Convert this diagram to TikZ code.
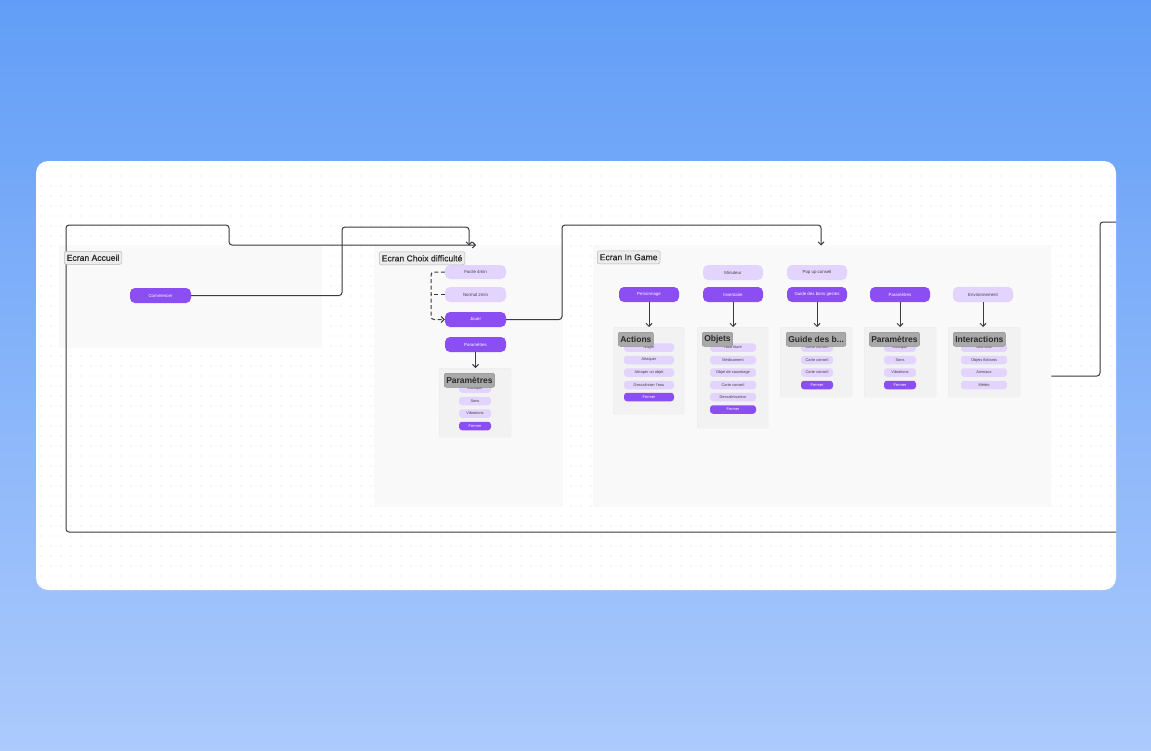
\documentclass[tikz,border=0pt]{standalone}
\usepackage{fontspec}
\setmainfont{Liberation Sans}
\usetikzlibrary{arrows.meta,calc}
\definecolor{pur}{HTML}{8B4EF3}
\definecolor{lpur}{HTML}{E2D4FC}
\definecolor{bgtop}{RGB}{98,158,247}
\definecolor{bgbot}{RGB}{172,202,252}
\definecolor{framefill}{HTML}{F9F9F9}
\definecolor{subfill}{HTML}{F2F2F2}
\definecolor{subborder}{HTML}{DADADA}
\definecolor{tfill}{HTML}{ECECEC}
\definecolor{tborder}{HTML}{B8B8B8}
\definecolor{sgray}{HTML}{A9A9A9}
\definecolor{sgrayb}{HTML}{8F8F8F}
\definecolor{txt}{HTML}{2A2A2A}
\definecolor{txtb}{HTML}{444444}
\definecolor{lc}{HTML}{3A3A40}
\definecolor{dotc}{HTML}{DCDCDC}
\begin{document}
\begin{tikzpicture}[x=1pt,y=-1pt,
  frame/.style={fill=framefill, draw=none, rectangle, anchor=north west, inner sep=0},
  sub/.style={fill=subfill, draw=subborder, densely dotted, line width=0.4pt, anchor=north west, inner sep=0, rounded corners=1.5},
  ftitle/.style={fill=tfill, draw=tborder, rounded corners=2, line width=0.5pt, font=\fontsize{8.6}{9}\selectfont\addfontfeature{FakeBold=0.6}, text=txt, inner xsep=2.5pt, inner ysep=0, minimum height=13},
  stitle/.style={fill=sgray, draw=sgrayb, line width=0.5pt, rounded corners=2, font=\bfseries\fontsize{8.5}{9}\selectfont, minimum height=14, inner xsep=2pt, inner ysep=0, text=txt},
  btn/.style={fill=pur, rounded corners=5, minimum width=61, minimum height=15, inner sep=0, font=\fontsize{4.4}{5}\selectfont, text=white},
  lbtn/.style={btn, fill=lpur, text=txtb},
  it/.style={fill=lpur, rounded corners=3, minimum height=8.5, inner sep=0, font=\fontsize{3.9}{4}\selectfont, text=txtb},
  itd/.style={it, fill=pur, text=white},
  conn/.style={draw=lc, line width=1pt, rounded corners=3},
  arr/.style={conn, -{Straight Barb[length=3pt,width=6pt]}}
]
\useasboundingbox (0,0) rectangle (1151,750);
% background
\shade[top color=bgtop, bottom color=bgbot] (0,0) rectangle (1151,750);
% card
\fill[white, rounded corners=12] (36,161) rectangle (1116,590);
\begin{scope}
  \clip[rounded corners=12] (36,161) rectangle (1116,590);
  \foreach \x in {41,51,...,1111} {
    \foreach \y in {166,176,...,586} {
      \fill[dotc] (\x,\y) circle (0.55);
    }
  }
\end{scope}

% frames
\node[frame, minimum width=263, minimum height=103] (accueil) at (59,245) {};
\node[frame, minimum width=189, minimum height=262] (choix) at (374,245) {};
\node[frame, minimum width=458, minimum height=262] (ingame) at (593,245) {};

% sub-frames
\node[sub, minimum width=72, minimum height=69] (cparam) at (439,368) {};
\node[sub, minimum width=71, minimum height=87] (actions) at (613,327) {};
\node[sub, minimum width=71, minimum height=101] (objets) at (697,327) {};
\node[sub, minimum width=72, minimum height=70] (guide) at (780,327) {};
\node[sub, minimum width=72, minimum height=70] (gparam) at (864,327) {};
\node[sub, minimum width=72, minimum height=70] (inter) at (948,327) {};

% buttons - accueil
\node[btn] (commencer) at (160.5,295.5) {Commencer};
% buttons - choix
\node[lbtn, minimum height=14] (facile) at (475.5,272) {Facile 4min};
\node[lbtn] (normal) at (475.5,294.5) {Normal 2min};
\node[btn] (jouer) at (475.5,319.5) {Jouer};
\node[btn] (parambtn) at (475.5,344.5) {Paramètres};
% buttons - in game
\node[lbtn, minimum width=60] (minuteur) at (733,272.5) {Minuteur};
\node[lbtn, minimum width=60] (popup) at (817,272.5) {Pop up conseil};
\node[btn, minimum width=60] (perso) at (649,294.5) {Personnage};
\node[btn, minimum width=60] (inventaire) at (733,294.5) {Inventaire};
\node[btn, minimum width=60] (guidebtn) at (817,294.5) {Guide des bons gestes};
\node[btn, minimum width=60] (paramgame) at (900,294.5) {Paramètres};
\node[lbtn, minimum width=60, draw=subborder, densely dotted, line width=0.4pt] (envir) at (983,294.5) {Environnement};

% connectors
\coordinate (offA) at (1116,532);
\coordinate (choixIn) at (476,245);
\coordinate (choixTop) at (469,245.5);
\coordinate (ingameTop) at (821,245.5);
\coordinate (offB) at (1116,222);
\coordinate (gy) at (0,376);
\draw[arr] (offA) -- (66,532) -- (66,225) -- (229,225) -- (229,245) -- (choixIn);
\draw[arr] (commencer.east) -- (342,295.5) -- (342,227) -- (469,227) -- (choixTop);
\draw[arr] (jouer.east) -- (562,319.5) -- (562,225) -- (821,225) -- (ingameTop);
\draw[conn] (ingame.east |- gy) -- (1100,376) -- (1100,222) -- (offB);
\draw[arr, dash pattern=on 4pt off 2.5pt] (facile.west) -- (431,272) -- (431,319.5) -- (jouer.west);
\draw[conn, dash pattern=on 4pt off 2.5pt] (normal.west) -- (431,294.5);
\draw[arr, rounded corners=0] (parambtn.south) -- (parambtn.south |- cparam.north);
\draw[arr, rounded corners=0] (perso.south) -- (perso.south |- actions.north);
\draw[arr, rounded corners=0] (inventaire.south) -- (inventaire.south |- objets.north);
\draw[arr, rounded corners=0] (guidebtn.south) -- (guidebtn.south |- guide.north);
\draw[arr, rounded corners=0] (paramgame.south) -- (paramgame.south |- gparam.north);
\draw[arr, rounded corners=0] (envir.south) -- (envir.south |- inter.north);

% choix parametres items
\node[it, minimum width=32] (cp1) at (475,388.5) {Musique};
\node[it, minimum width=32] (cp2) at (475,401) {Sons};
\node[it, minimum width=32] (cp3) at (475,413.5) {Vibrations};
\node[itd, minimum width=32] (cp4) at (475,426) {Fermer};

% actions items
\node[it, minimum width=50] (a1) at (649,347.5) {Nager};
\node[it, minimum width=50] (a2) at (649,360) {Attaquer};
\node[it, minimum width=50] (a3) at (649,372.5) {Attraper un objet};
\node[it, minimum width=50] (a4) at (649,385) {Dessaliniser l'eau};
\node[itd, minimum width=50] (a5) at (649,397) {Fermer};

% objets items
\node[it, minimum width=46] (o1) at (733,347.5) {Nourriture};
\node[it, minimum width=46] (o2) at (733,360) {Médicament};
\node[it, minimum width=46] (o3) at (733,372.5) {Objet de sauvetage};
\node[it, minimum width=46] (o4) at (733,385) {Carte conseil};
\node[it, minimum width=46] (o5) at (733,397) {Dessalinisateur};
\node[itd, minimum width=46] (o6) at (733,409.5) {Fermer};

% guide items
\node[it, minimum width=32] (g1) at (817,347.5) {Carte conseil};
\node[it, minimum width=32] (g2) at (817,360) {Carte conseil};
\node[it, minimum width=32] (g3) at (817,372.5) {Carte conseil};
\node[itd, minimum width=32] (g4) at (817,385) {Fermer};

% game parametres items
\node[it, minimum width=32] (p1) at (900,347.5) {Musique};
\node[it, minimum width=32] (p2) at (900,360) {Sons};
\node[it, minimum width=32] (p3) at (900,372.5) {Vibrations};
\node[itd, minimum width=32] (p4) at (900,385) {Fermer};

% interactions items
\node[it, minimum width=46] (i1) at (984,347.5) {Jour/Nuit};
\node[it, minimum width=46] (i2) at (984,360) {Objets flottants};
\node[it, minimum width=46] (i3) at (984,372.5) {Animaux};
\node[it, minimum width=46] (i4) at (984,385) {Météo};

% frame titles
\node[ftitle, anchor=north west] (taccueil) at (64,251) {Ecran Accueil};
\node[ftitle, anchor=north west] (tchoix) at (379,251.5) {Ecran Choix difficulté};
\node[ftitle, anchor=north west] (tingame) at (597,250.5) {Ecran In Game};

% sub-frame titles
\node[stitle, anchor=north west] (tcparam) at (444,373) {Paramètres};
\node[stitle, anchor=north west] (tactions) at (618,332) {Actions};
\node[stitle, anchor=north west] (tobjets) at (702,332) {Objets};
\node[stitle, anchor=north west] (tguide) at (786,332) {Guide des b...};
\node[stitle, anchor=north west] (tgparam) at (869,332) {Paramètres};
\node[stitle, anchor=north west] (tinter) at (953,332) {Interactions};
\end{tikzpicture}
\end{document}
